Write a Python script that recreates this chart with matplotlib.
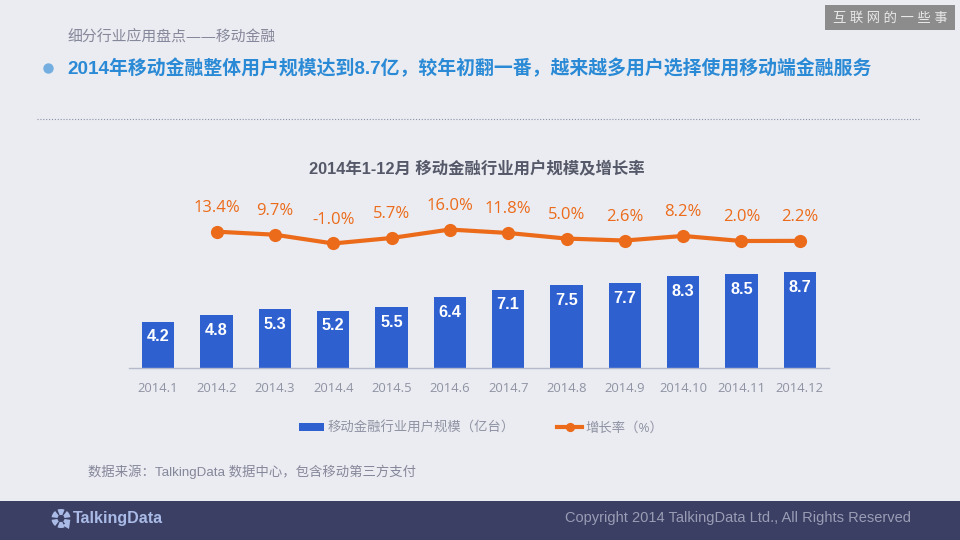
import matplotlib, matplotlib.pyplot as plt
from matplotlib.patches import Rectangle, Wedge, Polygon
import numpy as np

matplotlib.use("Agg")

LATIN_OPEN = ["Open Sans", "Noto Sans CJK SC", "DejaVu Sans"]
LATIN_ARIAL = ["Liberation Sans", "Noto Sans CJK SC", "DejaVu Sans"]
plt.rcParams["font.family"] = LATIN_OPEN

months = ["2014.1", "2014.2", "2014.3", "2014.4", "2014.5", "2014.6",
          "2014.7", "2014.8", "2014.9", "2014.10", "2014.11", "2014.12"]
users = [4.2, 4.8, 5.3, 5.2, 5.5, 6.4, 7.1, 7.5, 7.7, 8.3, 8.5, 8.7]
growth = [np.nan, 13.4, 9.7, -1.0, 5.7, 16.0, 11.8, 5.0, 2.6, 8.2, 2.0, 2.2]

BG = "#ebecf1"
BLUE = "#2f60d0"
ORANGE = "#ec6b1a"
GRAY = "#8f93a3"

W, H = 960, 540
fig = plt.figure(figsize=(W / 100, H / 100), dpi=100, facecolor=BG)

# page furniture, in pixel coordinates
page = fig.add_axes([0, 0, 1, 1], zorder=0)
page.set_xlim(0, W)
page.set_ylim(H, 0)
page.set_axis_off()

page.add_patch(Rectangle((0, 501), W, 39, color="#3b3f64", lw=0))
page.add_patch(Rectangle((825, 5), 130, 25, color="#8c8c8c", lw=0))
page.text(890, 18.5, "互 联 网 的 一 些 事", color="#e8e8e8", fontsize=9.6,
          ha="center", va="center")

page.text(67, 37, "细分行业应用盘点——移动金融", color="#85879a", fontsize=10.7,
          va="center")
page.plot([48], [67.5], "o", ms=7.5, color="#74aee0", mew=0)
page.text(67, 68, "2014年移动金融整体用户规模达到8.7亿，较年初翻一番，越来越多用户选择使用移动端金融服务",
          color="#2b8ad6", fontsize=13.6, fontweight="bold", family=LATIN_ARIAL, va="center")
page.plot([37, 921], [119, 119], color="#8a92a8", lw=0.8, ls=(0, (1, 1.6)))

page.text(477, 169.5, "2014年1-12月 移动金融行业用户规模及增长率", color="#555868",
          fontsize=11.8, fontweight="bold", family=LATIN_ARIAL, ha="center", va="center")

page.text(88, 471.5, "数据来源：TalkingData 数据中心，包含移动第三方支付", color="#85879a",
          fontsize=9.6, family=LATIN_ARIAL, va="center")

page.text(911, 518, "Copyright 2014 TalkingData Ltd., All Rights Reserved",
          color="#9a9db4", fontsize=10.5, family="Liberation Sans", ha="right", va="center")

# logo
for a in range(0, 360, 60):
    page.add_patch(Wedge((61, 518.5), 9.5, a + 8, a + 52, width=6, color="#a9bbe6", lw=0))
page.add_patch(Polygon([[62, 525], [70, 522], [69, 529]], color="#a9bbe6", lw=0))
page.text(73, 519, "TalkingData", color="#a9bbe6", fontsize=11.5, fontweight="bold",
          family="Liberation Sans", va="center")

# chart, pixel box x 129-829, y 190-368
ax = fig.add_axes([129 / W, 1 - 368 / H, 700 / W, 178 / H], zorder=1)
ax.patch.set_alpha(0)
x = np.arange(len(months))
bars = ax.bar(x, users, width=0.55, color=BLUE)
ax.set_xlim(-0.5, 11.5)
ax.set_ylim(0, 178 / 11.05)
ax.set_yticks([])
ax.set_xticks(x, months)
ax.tick_params(axis="x", length=0, pad=10, labelsize=9.4, labelcolor=GRAY)
for s in ["top", "left", "right"]:
    ax.spines[s].set_visible(False)
ax.spines["bottom"].set_color("#b4b9cc")
ax.spines["bottom"].set_linewidth(1)

for xi, v in zip(x, users):
    ax.annotate(f"{v:.1f}", (xi, v), xytext=(0, -11), textcoords="offset points", color="white",
                fontsize=11.7, fontweight="bold", family="Liberation Sans", ha="center", va="center")

ax2 = ax.twinx()
ax2.set_ylim(-152.8, 64.2)
ax2.set_axis_off()
line, = ax2.plot(x, growth, color=ORANGE, lw=3, marker="o", ms=9.5, mew=0)
for xi, v in zip(x, growth):
    if np.isnan(v):
        continue
    ax2.annotate(f"{v:.1f}%", (xi, v), xytext=(0, 17), textcoords="offset points", color=ORANGE,
                 fontsize=12, ha="center", va="center")

fig.legend([bars, line], ["移动金融行业用户规模（亿台）", "增长率（%）"], frameon=False, ncols=2,
           loc="center", bbox_to_anchor=(481 / W, 1 - 428 / H), fontsize=9.6, labelcolor=GRAY,
           handlelength=1.9, handleheight=0.5, handletextpad=0.2, columnspacing=3.2, markerscale=0.7)

plt.savefig("out.png", dpi=100, facecolor=BG)
plt.close()
